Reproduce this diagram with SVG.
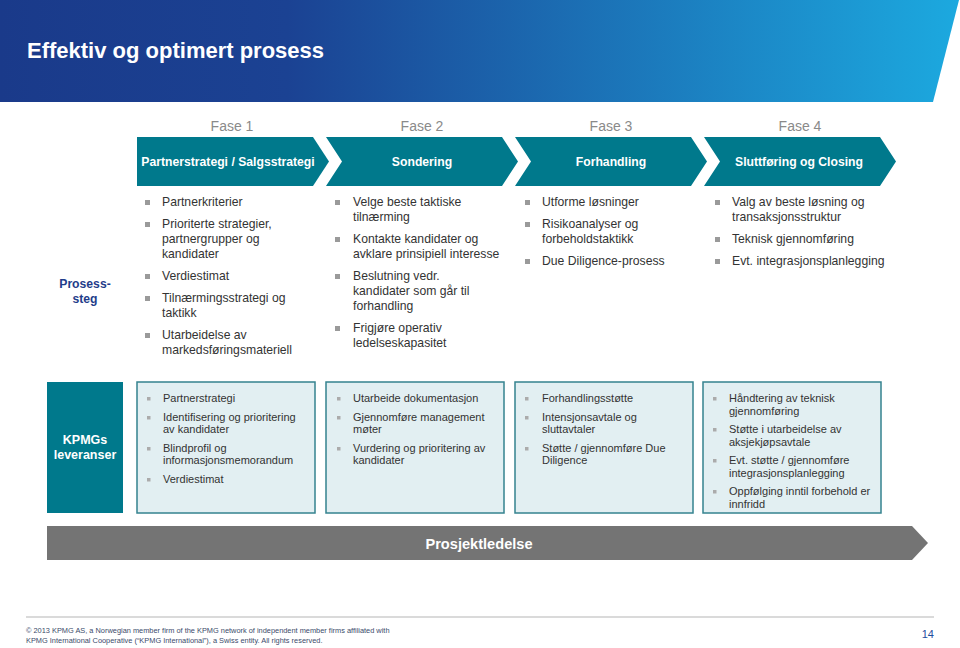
<svg xmlns="http://www.w3.org/2000/svg" width="960" height="648" viewBox="0 0 960 648">
<defs>
<linearGradient id="hdr" x1="0" y1="0" x2="1" y2="0">
<stop offset="0" stop-color="#1a3a8a"/>
<stop offset="0.3" stop-color="#1b4293"/>
<stop offset="1" stop-color="#1ca9df"/>
</linearGradient>
<style>
text{font-family:"Liberation Sans",Arial,sans-serif;}
.title{font-size:22px;font-weight:bold;fill:#fff;}
.fase{font-size:14px;fill:#8a8a8a;text-anchor:middle;}
.chev{fill:#00798c;}
.chevt{font-size:12.2px;font-weight:bold;fill:#fff;text-anchor:middle;}
.body{font-size:12.2px;fill:#333;}
.bul{fill:#9a9a9a;}
.sbul{fill:#ababab;}
.box{fill:#e2eff2;stroke:#35838f;stroke-width:1.5;}
.bt{font-size:11px;fill:#333;}
.lbl{font-size:12.2px;font-weight:bold;fill:#1f3d8a;text-anchor:middle;}
.klbl{font-size:12.5px;font-weight:bold;fill:#fff;text-anchor:middle;}
.foot{font-size:7.4px;fill:#3a4a6a;}
</style>
</defs>
<rect width="960" height="648" fill="#fff"/>
<g id="header">
<polygon points="0,0 959,0 933,102 0,102" fill="url(#hdr)"/>
<text class="title" x="27" y="58">Effektiv og optimert prosess</text>
</g>
<g id="phase1">
<text class="fase" x="232" y="131">Fase 1</text>
<path class="chev" d="M137,137 H313 L329,161.5 L313,186 H137 Z"/>
<text class="chevt" x="228" y="166">Partnerstrategi / Salgsstrategi</text>
</g>
<g id="phase2">
<text class="fase" x="422" y="131">Fase 2</text>
<path class="chev" d="M326,137 H502 L518,161.5 L502,186 H326 L342,161.5 Z"/>
<text class="chevt" x="422" y="166">Sondering</text>
</g>
<g id="phase3">
<text class="fase" x="611" y="131">Fase 3</text>
<path class="chev" d="M515,137 H691 L707,161.5 L691,186 H515 L531,161.5 Z"/>
<text class="chevt" x="611" y="166">Forhandling</text>
</g>
<g id="phase4">
<text class="fase" x="800" y="131">Fase 4</text>
<path class="chev" d="M704,137 H880 L896,161.5 L880,186 H704 L720,161.5 Z"/>
<text class="chevt" x="799" y="166">Sluttføring og Closing</text>
</g>
<g id="connectors"></g>
<g id="prosess-label">
<text class="lbl" x="85" y="288">Prosess-</text>
<text class="lbl" x="85" y="303">steg</text>
</g>
<g id="steps1">
<rect class="bul" x="145" y="200" width="5" height="5"/>
<text class="body" x="162" y="206">Partnerkriterier</text>
<rect class="bul" x="145" y="222" width="5" height="5"/>
<text class="body" x="162" y="228">Prioriterte strategier,</text>
<text class="body" x="162" y="243">partnergrupper og</text>
<text class="body" x="162" y="258">kandidater</text>
<rect class="bul" x="145" y="274" width="5" height="5"/>
<text class="body" x="162" y="280">Verdiestimat</text>
<rect class="bul" x="145" y="296" width="5" height="5"/>
<text class="body" x="162" y="302">Tilnærmingsstrategi og</text>
<text class="body" x="162" y="317">taktikk</text>
<rect class="bul" x="145" y="333" width="5" height="5"/>
<text class="body" x="162" y="339">Utarbeidelse av</text>
<text class="body" x="162" y="354">markedsføringsmateriell</text>
</g>
<g id="steps2">
<rect class="bul" x="335" y="200" width="5" height="5"/>
<text class="body" x="353" y="206">Velge beste taktiske</text>
<text class="body" x="353" y="221">tilnærming</text>
<rect class="bul" x="335" y="237" width="5" height="5"/>
<text class="body" x="353" y="243">Kontakte kandidater og</text>
<text class="body" x="353" y="258">avklare prinsipiell interesse</text>
<rect class="bul" x="335" y="274" width="5" height="5"/>
<text class="body" x="353" y="280">Beslutning vedr.</text>
<text class="body" x="353" y="295">kandidater som går til</text>
<text class="body" x="353" y="310">forhandling</text>
<rect class="bul" x="335" y="326" width="5" height="5"/>
<text class="body" x="353" y="332">Frigjøre operativ</text>
<text class="body" x="353" y="347">ledelseskapasitet</text>
</g>
<g id="steps3">
<rect class="bul" x="525" y="200" width="5" height="5"/>
<text class="body" x="542" y="206">Utforme løsninger</text>
<rect class="bul" x="525" y="222" width="5" height="5"/>
<text class="body" x="542" y="228">Risikoanalyser og</text>
<text class="body" x="542" y="243">forbeholdstaktikk</text>
<rect class="bul" x="525" y="259" width="5" height="5"/>
<text class="body" x="542" y="265">Due Diligence-prosess</text>
</g>
<g id="steps4">
<rect class="bul" x="715" y="200" width="5" height="5"/>
<text class="body" x="732" y="206">Valg av beste løsning og</text>
<text class="body" x="732" y="221">transaksjonsstruktur</text>
<rect class="bul" x="715" y="237" width="5" height="5"/>
<text class="body" x="732" y="243">Teknisk gjennomføring</text>
<rect class="bul" x="715" y="259" width="5" height="5"/>
<text class="body" x="732" y="265">Evt. integrasjonsplanlegging</text>
</g>
<g id="kpmg-label">
<rect x="47" y="382" width="76" height="131" fill="#00798c"/>
<text class="klbl" x="85" y="444">KPMGs</text>
<text class="klbl" x="85" y="459">leveranser</text>
</g>
<g id="deliv1">
<rect class="box" x="137" y="382" width="178" height="131"/>
<rect class="sbul" x="147" y="397" width="3.5" height="3.5"/>
<text class="bt" x="163" y="401.5">Partnerstrategi</text>
<rect class="sbul" x="147" y="416" width="3.5" height="3.5"/>
<text class="bt" x="163" y="420.5">Identifisering og prioritering</text>
<text class="bt" x="163" y="433">av kandidater</text>
<rect class="sbul" x="147" y="447" width="3.5" height="3.5"/>
<text class="bt" x="163" y="451.5">Blindprofil og</text>
<text class="bt" x="163" y="464">informasjonsmemorandum</text>
<rect class="sbul" x="147" y="478" width="3.5" height="3.5"/>
<text class="bt" x="163" y="482.5">Verdiestimat</text>
</g>
<g id="deliv2">
<rect class="box" x="326" y="382" width="178" height="131"/>
<rect class="sbul" x="337" y="397" width="3.5" height="3.5"/>
<text class="bt" x="353" y="401.5">Utarbeide dokumentasjon</text>
<rect class="sbul" x="337" y="416" width="3.5" height="3.5"/>
<text class="bt" x="353" y="420.5">Gjennomføre management</text>
<text class="bt" x="353" y="433">møter</text>
<rect class="sbul" x="337" y="447" width="3.5" height="3.5"/>
<text class="bt" x="353" y="451.5">Vurdering og prioritering av</text>
<text class="bt" x="353" y="464">kandidater</text>
</g>
<g id="deliv3">
<rect class="box" x="515" y="382" width="178" height="131"/>
<rect class="sbul" x="525" y="397" width="3.5" height="3.5"/>
<text class="bt" x="542" y="401.5">Forhandlingsstøtte</text>
<rect class="sbul" x="525" y="416" width="3.5" height="3.5"/>
<text class="bt" x="542" y="420.5">Intensjonsavtale og</text>
<text class="bt" x="542" y="433">sluttavtaler</text>
<rect class="sbul" x="525" y="447" width="3.5" height="3.5"/>
<text class="bt" x="542" y="451.5">Støtte / gjennomføre Due</text>
<text class="bt" x="542" y="464">Diligence</text>
</g>
<g id="deliv4">
<rect class="box" x="703" y="382" width="178" height="131"/>
<rect class="sbul" x="713" y="397" width="3.5" height="3.5"/>
<text class="bt" x="729" y="401.5">Håndtering av teknisk</text>
<text class="bt" x="729" y="414.5">gjennomføring</text>
<rect class="sbul" x="713" y="428" width="3.5" height="3.5"/>
<text class="bt" x="729" y="432.5">Støtte i utarbeidelse av</text>
<text class="bt" x="729" y="445.5">aksjekjøpsavtale</text>
<rect class="sbul" x="713" y="459" width="3.5" height="3.5"/>
<text class="bt" x="729" y="463.5">Evt. støtte / gjennomføre</text>
<text class="bt" x="729" y="476.5">integrasjonsplanlegging</text>
<rect class="sbul" x="713" y="490" width="3.5" height="3.5"/>
<text class="bt" x="729" y="494.5">Oppfølging inntil forbehold er</text>
<text class="bt" x="729" y="507.5">innfridd</text>
</g>
<g id="prosjektledelse">
<path d="M47,526 H912 L928,543 L912,560 H47 Z" fill="#747474"/>
<text x="479" y="548.5" font-size="14.6" font-weight="bold" fill="#fff" text-anchor="middle">Prosjektledelse</text>
</g>
<g id="footer">
<line x1="26" y1="617" x2="934" y2="617" stroke="#b5b5b5" stroke-width="1"/>
<text class="foot" x="26" y="633">© 2013 KPMG AS, a Norwegian member firm of the KPMG network of independent member firms affiliated with</text>
<text class="foot" x="26" y="643">KPMG International Cooperative (“KPMG International”), a Swiss entity. All rights reserved.</text>
<text x="934" y="638" font-size="11" fill="#1f4e9e" text-anchor="end">14</text>
</g>
</svg>
